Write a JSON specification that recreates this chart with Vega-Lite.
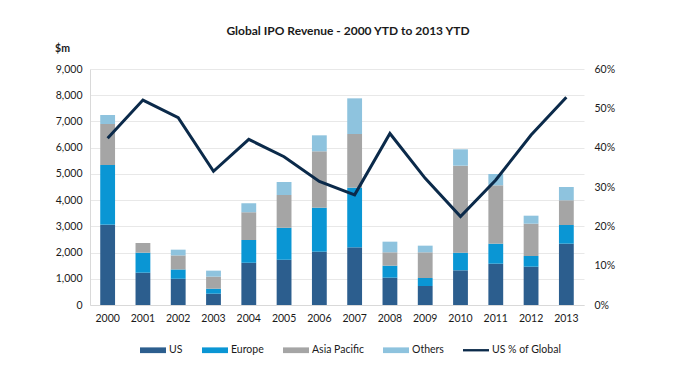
{
  "$schema": "https://vega.github.io/schema/vega-lite/v6.json",
  "width": 494,
  "height": 236,
  "autosize": "none",
  "padding": {"left": 90, "top": 69, "right": 99, "bottom": 66},
  "background": "white",
  "config": {
    "font": "Lato",
    "view": {"stroke": null},
    "axis": {"labelFont": "Lato", "labelFontSize": 10.5, "labelColor": "#1a1a1a", "ticks": false},
    "legend": {"labelFont": "Lato", "labelFontSize": 10.5, "labelColor": "#1a1a1a"}
  },
  "title": {
    "text": "Global IPO Revenue - 2000 YTD to 2013 YTD",
    "font": "Lato",
    "fontSize": 12,
    "fontWeight": "bold",
    "color": "#1a1a1a",
    "anchor": "middle",
    "frame": "group",
    "dx": 11,
    "offset": 5
  },
  "datasets": {
    "bars": [
      {"year": "2000", "region": "US", "k": 1, "value": 3063},
      {"year": "2000", "region": "Europe", "k": 2, "value": 2276},
      {"year": "2000", "region": "Asia Pacific", "k": 3, "value": 1564},
      {"year": "2000", "region": "Others", "k": 4, "value": 343},
      {"year": "2001", "region": "US", "k": 1, "value": 1233},
      {"year": "2001", "region": "Europe", "k": 2, "value": 762},
      {"year": "2001", "region": "Asia Pacific", "k": 3, "value": 369},
      {"year": "2001", "region": "Others", "k": 4, "value": 0},
      {"year": "2002", "region": "US", "k": 1, "value": 1000},
      {"year": "2002", "region": "Europe", "k": 2, "value": 356},
      {"year": "2002", "region": "Asia Pacific", "k": 3, "value": 535},
      {"year": "2002", "region": "Others", "k": 4, "value": 219},
      {"year": "2003", "region": "US", "k": 1, "value": 432},
      {"year": "2003", "region": "Europe", "k": 2, "value": 191},
      {"year": "2003", "region": "Asia Pacific", "k": 3, "value": 458},
      {"year": "2003", "region": "Others", "k": 4, "value": 229},
      {"year": "2004", "region": "US", "k": 1, "value": 1614},
      {"year": "2004", "region": "Europe", "k": 2, "value": 865},
      {"year": "2004", "region": "Asia Pacific", "k": 3, "value": 1056},
      {"year": "2004", "region": "Others", "k": 4, "value": 342},
      {"year": "2005", "region": "US", "k": 1, "value": 1729},
      {"year": "2005", "region": "Europe", "k": 2, "value": 1220},
      {"year": "2005", "region": "Asia Pacific", "k": 3, "value": 1246},
      {"year": "2005", "region": "Others", "k": 4, "value": 496},
      {"year": "2006", "region": "US", "k": 1, "value": 2034},
      {"year": "2006", "region": "Europe", "k": 2, "value": 1678},
      {"year": "2006", "region": "Asia Pacific", "k": 3, "value": 2149},
      {"year": "2006", "region": "Others", "k": 4, "value": 610},
      {"year": "2007", "region": "US", "k": 1, "value": 2199},
      {"year": "2007", "region": "Europe", "k": 2, "value": 2276},
      {"year": "2007", "region": "Asia Pacific", "k": 3, "value": 2046},
      {"year": "2007", "region": "Others", "k": 4, "value": 1360},
      {"year": "2008", "region": "US", "k": 1, "value": 1043},
      {"year": "2008", "region": "Europe", "k": 2, "value": 457},
      {"year": "2008", "region": "Asia Pacific", "k": 3, "value": 509},
      {"year": "2008", "region": "Others", "k": 4, "value": 406},
      {"year": "2009", "region": "US", "k": 1, "value": 725},
      {"year": "2009", "region": "Europe", "k": 2, "value": 305},
      {"year": "2009", "region": "Asia Pacific", "k": 3, "value": 979},
      {"year": "2009", "region": "Others", "k": 4, "value": 254},
      {"year": "2010", "region": "US", "k": 1, "value": 1322},
      {"year": "2010", "region": "Europe", "k": 2, "value": 673},
      {"year": "2010", "region": "Asia Pacific", "k": 3, "value": 3318},
      {"year": "2010", "region": "Others", "k": 4, "value": 624},
      {"year": "2011", "region": "US", "k": 1, "value": 1576},
      {"year": "2011", "region": "Europe", "k": 2, "value": 763},
      {"year": "2011", "region": "Asia Pacific", "k": 3, "value": 2225},
      {"year": "2011", "region": "Others", "k": 4, "value": 432},
      {"year": "2012", "region": "US", "k": 1, "value": 1462},
      {"year": "2012", "region": "Europe", "k": 2, "value": 407},
      {"year": "2012", "region": "Asia Pacific", "k": 3, "value": 1232},
      {"year": "2012", "region": "Others", "k": 4, "value": 305},
      {"year": "2013", "region": "US", "k": 1, "value": 2339},
      {"year": "2013", "region": "Europe", "k": 2, "value": 712},
      {"year": "2013", "region": "Asia Pacific", "k": 3, "value": 942},
      {"year": "2013", "region": "Others", "k": 4, "value": 507}
    ],
    "pct": [
      {"year": "2000", "pct": 0.424},
      {"year": "2001", "pct": 0.521},
      {"year": "2002", "pct": 0.476},
      {"year": "2003", "pct": 0.340},
      {"year": "2004", "pct": 0.421},
      {"year": "2005", "pct": 0.377},
      {"year": "2006", "pct": 0.314},
      {"year": "2007", "pct": 0.280},
      {"year": "2008", "pct": 0.436},
      {"year": "2009", "pct": 0.322},
      {"year": "2010", "pct": 0.225},
      {"year": "2011", "pct": 0.318},
      {"year": "2012", "pct": 0.432},
      {"year": "2013", "pct": 0.528}
    ]
  },
  "encoding": {
    "x": {
      "field": "year",
      "type": "ordinal",
      "title": null,
      "scale": {"paddingInner": 0.58, "paddingOuter": 0.29},
      "axis": {"labelAngle": 0, "labelPadding": 8, "domainColor": "#D9D9D9", "grid": false}
    }
  },
  "layer": [
    {
      "data": {"name": "bars"},
      "mark": {"type": "bar"},
      "encoding": {
        "y": {
          "field": "value",
          "type": "quantitative",
          "stack": "zero",
          "scale": {"domain": [0, 9000], "nice": false},
          "axis": {
            "values": [0, 1000, 2000, 3000, 4000, 5000, 6000, 7000, 8000, 9000],
            "format": ",.0f",
            "labelPadding": 8,
            "domainColor": "#D9D9D9",
            "gridColor": "#E8E8E8",
            "title": "$m",
            "titleAngle": 0,
            "titleFont": "Lato",
            "titleFontSize": 10.5,
            "titleFontWeight": "bold",
            "titleColor": "#1a1a1a",
            "titleAlign": "center",
            "titleBaseline": "middle",
            "titleX": -28,
            "titleY": -21
          }
        },
        "color": {
          "field": "region",
          "type": "nominal",
          "sort": ["US", "Europe", "Asia Pacific", "Others"],
          "scale": {
            "domain": ["US", "Europe", "Asia Pacific", "Others", "US % of Global"],
            "range": ["#2C5E8E", "#0A96D4", "#A5A5A5", "#8EC3DE", "#0B2A4A"]
          },
          "legend": {
            "title": null,
            "orient": "none",
            "direction": "horizontal",
            "columns": 5,
            "legendX": 50,
            "legendY": 268,
            "padding": 0,
            "columnPadding": 19,
            "labelOffset": 3,
            "symbolSize": 676,
            "symbolType": "M-1,-0.22H1V0.22H-1Z",
            "symbolStrokeWidth": 0,
            "encode": {
              "symbols": {
                "update": {
                  "shape": {"signal": "datum.value === 'US % of Global' ? 'M-1,-0.09H1V0.09H-1Z' : 'M-1,-0.22H1V0.22H-1Z'"},
                  "fill": {"scale": "color", "field": "value"},
                  "strokeWidth": {"value": 0},
                  "opacity": {"value": 1}
                }
              }
            }
          }
        },
        "order": {"field": "k", "type": "quantitative", "sort": "ascending"}
      }
    },
    {
      "data": {"name": "pct"},
      "mark": {"type": "line", "strokeWidth": 3, "color": "#0B2A4A"},
      "encoding": {
        "y": {
          "field": "pct",
          "type": "quantitative",
          "scale": {"domain": [0, 0.6], "nice": false},
          "axis": {
            "orient": "right",
            "values": [0, 0.1, 0.2, 0.3, 0.4, 0.5, 0.6],
            "format": ".0%",
            "labelPadding": 10,
            "domain": false,
            "grid": false,
            "title": null
          }
        },
        "color": {"datum": "US % of Global", "type": "nominal"}
      }
    }
  ],
  "resolve": {"scale": {"y": "independent"}}
}
